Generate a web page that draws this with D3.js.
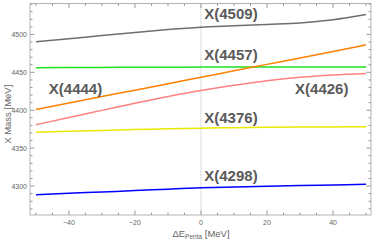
<!DOCTYPE html>
<html>
<head>
    <script src="https://cdnjs.cloudflare.com/ajax/libs/d3/7.8.5/d3.min.js"></script>
    <style>
        body { margin: 0; background: white; }
        svg { display: block; font-family: "Liberation Sans", Arial, sans-serif; }
        .tick-label { font-size: 7px; fill: #666; }
        .axis-title { font-size: 9.5px; fill: #666; }
        .state-label { font-size: 15px; font-weight: bold; fill: #5a5a5a; }
    </style>
</head>
<body>
    <svg id="chart"></svg>

    <script>
        const width = 374;
        const height = 240;

        // energy shift of the pentaquark, MeV
        const deltaE = [-50, -40, -30, -20, -10, 0, 10, 20, 30, 40, 50];

        // X masses in MeV
        const massX4509 = [4490.4, 4494.2, 4498.5, 4502.6, 4506.5, 4509.6, 4511.3, 4513.1, 4515.0, 4519.3, 4526.2];
        const massX4457 = [4456.0, 4456.3, 4456.5, 4456.7, 4456.8, 4456.9, 4457.0, 4457.0, 4457.0, 4457.0, 4457.0];
        const massX4444 = [4401.0, 4409.5, 4418.0, 4426.5, 4435.0, 4443.6, 4452.0, 4460.5, 4469.0, 4477.6, 4486.3];
        const massX4426 = [4380.8, 4390.4, 4399.8, 4409.2, 4418.0, 4426.0, 4433.0, 4439.0, 4443.6, 4446.6, 4448.6];
        const massX4376 = [4371.0, 4372.3, 4373.4, 4374.5, 4375.6, 4376.4, 4377.0, 4377.5, 4377.8, 4378.0, 4378.1];
        const massX4298 = [4288.6, 4290.4, 4292.2, 4294.0, 4295.9, 4297.6, 4298.8, 4299.8, 4300.7, 4301.5, 4302.2];

        const seriesColors = ["#6e6e6e", "#1fe01f", "#ff8000", "#ff8080", "#e8e800", "#0000ff"];
        const seriesValues = [massX4509, massX4457, massX4444, massX4426, massX4376, massX4298];

        // state labels, anchored in data units
        const labelNames = ["X(4509)", "X(4457)", "X(4444)", "X(4426)", "X(4376)", "X(4298)"];
        const labelDeltaE = [1, 1, -46.1, 28.5, 1, 1];
        const labelMass = [4520.4, 4466.8, 4421.0, 4421.8, 4383.6, 4306.3];

        const xMajor = [-40, -20, 0, 20, 40];
        const xMinor = d3.range(-50, 51, 5);
        const yMajor = [4300, 4350, 4400, 4450, 4500];
        const yMinor = d3.range(4270, 4541, 10);

        const svg = d3.select("#chart")
            .attr("width", width)
            .attr("height", height);

        const x = d3.scaleLinear().domain([-51.8, 51.5]).range([30, 371]);
        const y = d3.scaleLinear().domain([4261.8, 4540.8]).range([215, 3.5]);

        const [x0, x1] = x.range();
        const [y0, y1] = y.range();

        // grid line at zero shift
        svg.append("line")
            .attr("x1", x(0)).attr("x2", x(0))
            .attr("y1", y1).attr("y2", y0)
            .attr("stroke", "#dcdcdc")
            .attr("stroke-width", 1);

        // frame
        svg.append("rect")
            .attr("x", x0).attr("y", y1)
            .attr("width", x1 - x0).attr("height", y0 - y1)
            .attr("fill", "none")
            .attr("stroke", "#b4b4b4")
            .attr("stroke-width", 1);

        // inward ticks on all four sides
        const tickColor = "#9a9a9a";
        function xTicks(values, len) {
            values.forEach(v => {
                svg.append("line").attr("x1", x(v)).attr("x2", x(v))
                    .attr("y1", y0).attr("y2", y0 - len).attr("stroke", tickColor);
                svg.append("line").attr("x1", x(v)).attr("x2", x(v))
                    .attr("y1", y1).attr("y2", y1 + len).attr("stroke", tickColor);
            });
        }
        function yTicks(values, len) {
            values.forEach(v => {
                svg.append("line").attr("x1", x0).attr("x2", x0 + len)
                    .attr("y1", y(v)).attr("y2", y(v)).attr("stroke", tickColor);
                svg.append("line").attr("x1", x1).attr("x2", x1 - len)
                    .attr("y1", y(v)).attr("y2", y(v)).attr("stroke", tickColor);
            });
        }
        xTicks(xMinor.filter(v => !xMajor.includes(v)), 2.5);
        xTicks(xMajor, 4.5);
        yTicks(yMinor.filter(v => !yMajor.includes(v)), 2.5);
        yTicks(yMajor, 4.5);

        svg.selectAll(".xlab")
            .data(xMajor)
            .join("text")
            .attr("class", "tick-label")
            .attr("x", d => x(d))
            .attr("y", y0 + 9.5)
            .attr("text-anchor", "middle")
            .text(d => d < 0 ? "\u2212" + Math.abs(d) : d);

        svg.selectAll(".ylab")
            .data(yMajor)
            .join("text")
            .attr("class", "tick-label")
            .attr("x", x0 - 3)
            .attr("y", d => y(d) + 2.5)
            .attr("text-anchor", "end")
            .text(d => d);

        // axis titles
        const xt = svg.append("text")
            .attr("class", "axis-title")
            .attr("x", x(0))
            .attr("y", 237)
            .attr("text-anchor", "middle");
        xt.append("tspan").text("\u0394E");
        xt.append("tspan").attr("font-size", "6.5px").attr("dy", 1.5).text("Penta");
        xt.append("tspan").attr("dy", -1.5).text(" [MeV]");

        svg.append("text")
            .attr("class", "axis-title")
            .attr("transform", `translate(10.5, ${(y0 + y1) / 2 + 5}) rotate(-90)`)
            .attr("text-anchor", "middle")
            .text("X Mass [MeV]");

        // curves
        const line = d3.line()
            .x((d, i) => x(deltaE[i]))
            .y(d => y(d))
            .curve(d3.curveMonotoneX);

        svg.selectAll(".curve")
            .data(seriesValues)
            .join("path")
            .attr("class", "curve")
            .attr("d", d => line(d))
            .attr("fill", "none")
            .attr("stroke", (d, i) => seriesColors[i])
            .attr("stroke-width", 1.5);

        // state labels
        svg.selectAll(".state-label")
            .data(labelNames)
            .join("text")
            .attr("class", "state-label")
            .attr("x", (d, i) => x(labelDeltaE[i]))
            .attr("y", (d, i) => y(labelMass[i]))
            .text(d => d);
    </script>
</body>
</html>
